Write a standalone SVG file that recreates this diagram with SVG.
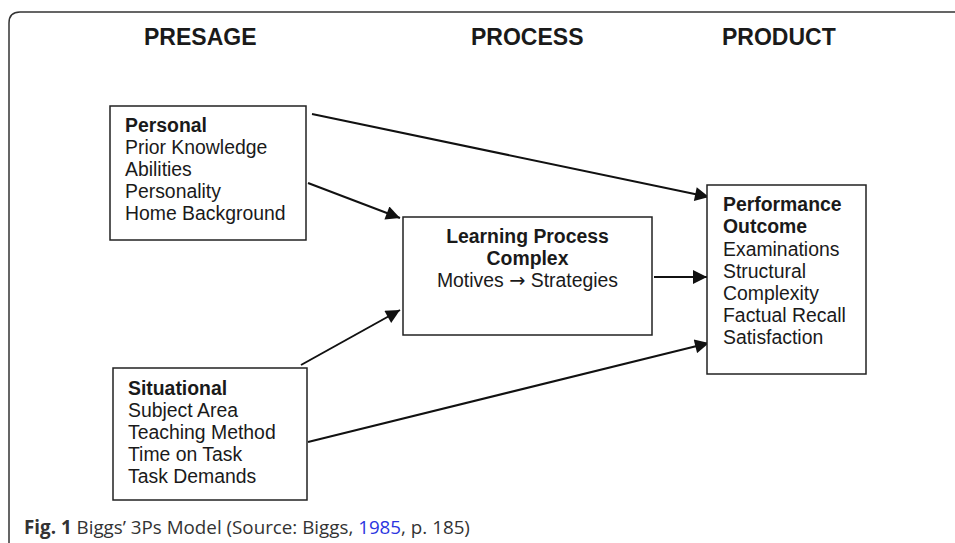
<svg xmlns="http://www.w3.org/2000/svg" width="955" height="543" viewBox="0 0 955 543">
<style>
.box{fill:#fff;stroke:#222;stroke-width:1.5}
.t{font-family:'Liberation Sans',Arial,sans-serif;font-size:19.4px;fill:#1a1a1a}
.b{font-weight:bold}
.h{font-family:'Liberation Sans',Arial,sans-serif;font-size:23px;font-weight:bold;fill:#1a1a1a}
.cap{font-family:'Open Sans','Noto Sans',sans-serif;font-size:18.8px;fill:#333}
</style>
<defs>
<marker id="ah2" viewBox="0 0 10 10" refX="10" refY="5" markerWidth="16" markerHeight="14" orient="auto" markerUnits="userSpaceOnUse">
<path d="M0,0 L10,5 L0,10 Z" fill="#111"/>
</marker>
</defs>
<rect width="955" height="543" fill="#fff"/>
<path d="M9,543 V23 Q9,12 20,12 H955" fill="none" stroke="#333" stroke-width="1.5"/>
<g id="headers">
<text class="h" x="144" y="45">PRESAGE</text>
<text class="h" x="471" y="45">PROCESS</text>
<text class="h" x="722" y="45">PRODUCT</text>
</g>
<g id="connectors" stroke="#111" stroke-width="2" fill="none">
<line x1="312" y1="114" x2="709" y2="197" marker-end="url(#ah2)"/>
<line x1="308" y1="183" x2="400" y2="218" marker-end="url(#ah2)"/>
<line x1="301" y1="365" x2="400" y2="310" marker-end="url(#ah2)"/>
<line x1="654" y1="277" x2="707" y2="277" marker-end="url(#ah2)"/>
<line x1="308" y1="442" x2="709" y2="343" marker-end="url(#ah2)"/>
</g>
<g id="personal">
<rect class="box" x="110" y="106" width="196" height="134"/>
<text class="t" x="125" y="132"><tspan class="b">Personal</tspan><tspan x="125" dy="22">Prior Knowledge</tspan><tspan x="125" dy="22">Abilities</tspan><tspan x="125" dy="22">Personality</tspan><tspan x="125" dy="22">Home Background</tspan></text>
</g>
<g id="situational">
<rect class="box" x="113" y="368" width="194" height="132"/>
<text class="t" x="128" y="395"><tspan class="b">Situational</tspan><tspan x="128" dy="22">Subject Area</tspan><tspan x="128" dy="22">Teaching Method</tspan><tspan x="128" dy="22">Time on Task</tspan><tspan x="128" dy="22">Task Demands</tspan></text>
</g>
<g id="process">
<rect class="box" x="403" y="217" width="249" height="118"/>
<text class="t b" x="527.5" y="243" text-anchor="middle">Learning Process</text>
<text class="t b" x="527.5" y="265" text-anchor="middle">Complex</text>
<text class="t" x="527.5" y="287" text-anchor="middle">Motives <tspan font-family="DejaVu Sans">→</tspan> Strategies</text>
</g>
<g id="product">
<rect class="box" x="707" y="185" width="159" height="189"/>
<text class="t" x="723" y="211"><tspan class="b">Performance</tspan><tspan class="b" x="723" dy="22">Outcome</tspan><tspan x="723" dy="22.5">Examinations</tspan><tspan x="723" dy="22">Structural</tspan><tspan x="723" dy="22">Complexity</tspan><tspan x="723" dy="22">Factual Recall</tspan><tspan x="723" dy="22">Satisfaction</tspan></text>
</g>
<g id="caption">
<text class="cap" x="24" y="534"><tspan font-weight="bold">Fig. 1</tspan> Biggs’ 3Ps Model (Source: Biggs, <tspan fill="#2b35e0">1985</tspan>, p. 185)</text>
</g>
</svg>
